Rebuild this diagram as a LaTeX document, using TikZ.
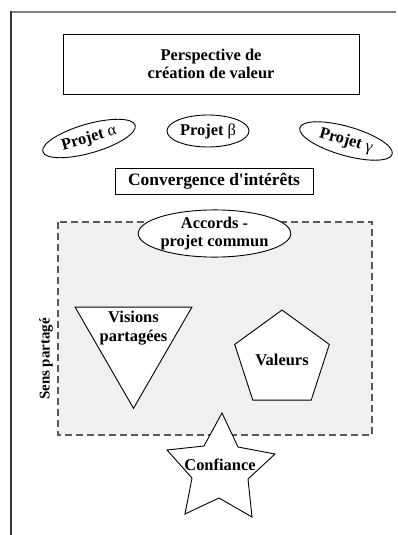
\documentclass[tikz,border=0pt]{standalone}
\usepackage{fontspec}
\setmainfont{Liberation Serif}[Ligatures=TeXOff]
\usetikzlibrary{shapes.geometric}
\tikzset{
  lbl/.style={font=\bfseries\fontsize{16.5}{18.5}\selectfont, align=center, inner sep=0pt},
  shp/.style={draw=black, line width=0.9bp, fill=white},
  proj/.style={shp, ellipse, inner sep=0pt, font=\bfseries\fontsize{16.5}{18.5}\selectfont},
}
\begin{document}
\begin{tikzpicture}[x=1bp,y=-1bp]
\useasboundingbox (0,0) rectangle (397,535);
% outer frame
\draw[line width=1.5bp, gray] (11,12) -- (396,12);
\draw[line width=1.5bp, black!80] (11,11.3) -- (11,535);
% top box
\node[shp, rectangle, minimum width=296bp, minimum height=60bp, lbl, draw] (persp) at (211,64) {Perspective de\\création de valeur};
% projects
\node[proj, minimum width=96bp, minimum height=29bp, rotate=16] (pa) at (89,138.5) {Projet {\mdseries α}};
\node[proj, minimum width=82bp, minimum height=32bp] (pb) at (208,131) {Projet {\mdseries β}};
\node[proj, minimum width=96bp, minimum height=29bp, rotate=-16] (pc) at (346,141) {Projet {\mdseries γ}};
% convergence
\node[shp, rectangle, minimum width=198bp, minimum height=26bp, inner sep=0pt, font=\bfseries\fontsize{17.5}{19}\selectfont] (conv) at (214,181) {Convergence d'intérêts};
% dashed area
\draw[draw=black!65, fill=black!6, line width=1.1bp, dash pattern=on 7bp off 4bp] (58,222) rectangle (372,435);
\coordinate (sensc) at (46,359);
\node[lbl, rotate=90, font=\bfseries\fontsize{15}{17}\selectfont] (sens) at (sensc) {Sens partagé};
% accords
\node[proj, minimum width=135bp, minimum height=47bp, align=center] (acc) at (214.5,233.5) {Accords -\\projet commun};
% triangle
\node[shp, regular polygon, regular polygon sides=3, shape border rotate=180, minimum size=135bp, inner sep=0pt] (tri) at (133.5,340.8) {};
\node[lbl] (vis) at (133.5,328) {Visions\\partagées};
% pentagon
\node[shp, regular polygon, regular polygon sides=5, minimum size=99.5bp, inner sep=0pt] (pent) at (282,359.8) {};
\node[lbl] (val) at (pent.center) {Valeurs};
% star
\coordinate (s1) at (222,413);
\coordinate (s2) at (238,447);
\coordinate (s3) at (275,454);
\coordinate (s4) at (248,479);
\coordinate (s5) at (252,517);
\coordinate (s6) at (219,498);
\coordinate (s7) at (185,514);
\coordinate (s8) at (192,478);
\coordinate (s9) at (167,450);
\coordinate (s10) at (204,446);
\draw[shp] (s1) -- (s2) -- (s3) -- (s4) -- (s5) -- (s6) -- (s7) -- (s8) -- (s9) -- (s10) -- cycle;
\node[lbl] (conf) at (220,465) {Confiance};
\end{tikzpicture}
\end{document}
